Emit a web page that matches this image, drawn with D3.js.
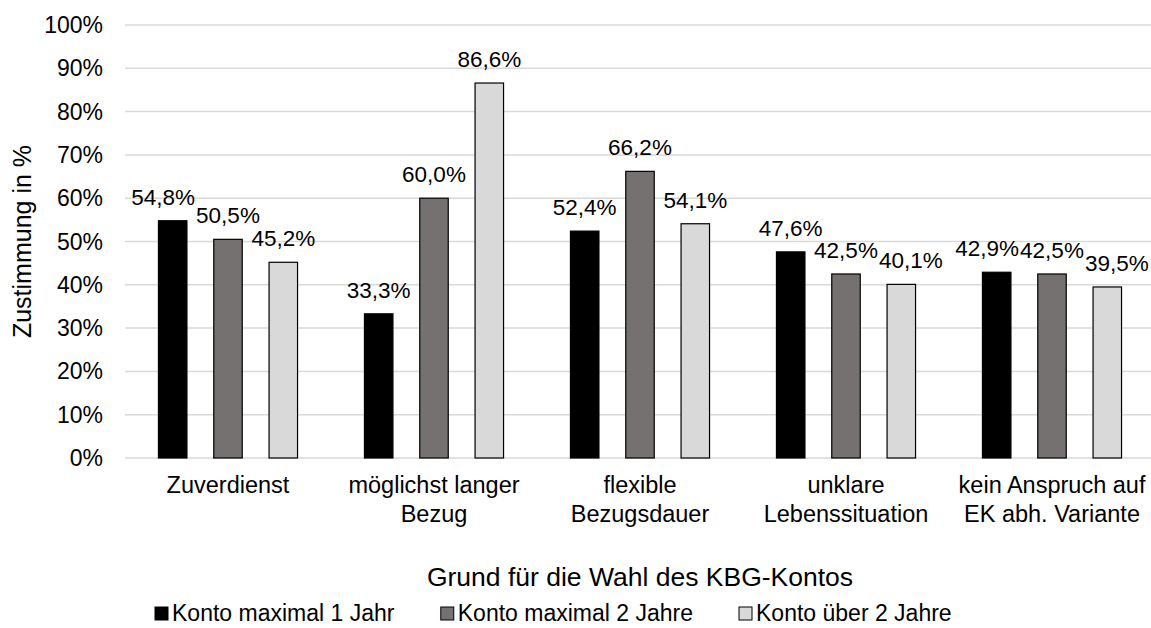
<!DOCTYPE html>
<html>
<head>
<meta charset="utf-8">
<script src="https://cdn.jsdelivr.net/npm/d3@7"></script>
<style>
  html, body { margin: 0; padding: 0; background: #fff; }
  svg { display: block; font-family: "Liberation Sans", Arial, sans-serif; }
</style>
</head>
<body>
<svg id="chart" width="1151" height="628"></svg>
<script>
const categories = [
  ["Zuverdienst"],
  ["möglichst langer", "Bezug"],
  ["flexible", "Bezugsdauer"],
  ["unklare", "Lebenssituation"],
  ["kein Anspruch auf", "EK abh. Variante"]
];
const seriesNames = ["Konto maximal 1 Jahr", "Konto maximal 2 Jahre", "Konto über 2 Jahre"];
const konto1 = [54.8, 33.3, 52.4, 47.6, 42.9];
const konto2 = [50.5, 60.0, 66.2, 42.5, 42.5];
const konto3 = [45.2, 86.6, 54.1, 40.1, 39.5];
const yTicks = [0, 10, 20, 30, 40, 50, 60, 70, 80, 90, 100];
const colors = ["#000000", "#767171", "#d9d9d9"];
const yTitle = "Zustimmung in %";
const xTitle = "Grund für die Wahl des KBG-Kontos";

(function () {
const seriesValues = [konto1, konto2, konto3];
const svg = d3.select("#chart");
const W = 1151;
const mLeft = 125, mRight = 1155, mTop = 25, mBottom = 458;

const x0 = d3.scaleBand().domain(d3.range(categories.length)).range([mLeft, mRight]).padding(0);
const x1 = d3.scaleBand().domain(d3.range(seriesNames.length)).range([0, x0.bandwidth()])
  .paddingInner(0.485).paddingOuter(0.605);
const y = d3.scaleLinear().domain([0, 100]).range([mBottom, mTop]);
const fmt = v => d3.format(".1f")(v).replace(".", ",") + "%";

svg.append("g").selectAll("line").data(yTicks).join("line")
  .attr("x1", mLeft).attr("x2", W)
  .attr("y1", d => y(d)).attr("y2", d => y(d))
  .attr("stroke", "#d9d9d9").attr("stroke-width", 1.5);

svg.append("g").selectAll("text").data(yTicks).join("text")
  .attr("x", 103).attr("y", d => y(d)).attr("dy", "0.35em")
  .attr("text-anchor", "end").attr("font-size", 23).attr("fill", "#000")
  .text(d => d + "%");

const groups = svg.append("g").selectAll("g").data(categories).join("g")
  .attr("transform", (d, i) => `translate(${x0(i)},0)`);
groups.selectAll("rect").data((d, i) => seriesValues.map((s, j) => ({ j, v: s[i] }))).join("rect")
  .attr("x", d => x1(d.j)).attr("width", x1.bandwidth())
  .attr("y", d => y(d.v)).attr("height", d => y(0) - y(d.v))
  .attr("fill", d => colors[d.j]).attr("stroke", "#000").attr("stroke-width", 1.2);
groups.selectAll("text.val").data((d, i) => seriesValues.map((s, j) => ({ j, v: s[i] }))).join("text")
  .attr("class", "val")
  .attr("x", d => x1(d.j) + x1.bandwidth() / 2).attr("y", d => y(d.v) - 16)
  .attr("text-anchor", "middle").attr("font-size", 22.5).attr("fill", "#000")
  .text(d => fmt(d.v));

// neighbouring labels that collide are pushed outward (middle label stays)
groups.each(function () {
  const ts = d3.select(this).selectAll("text.val").nodes();
  const mid = 1;
  [[0, 1, -1], [1, 2, 1]].forEach(([a, b, dir]) => {
    const ba = ts[a].getBBox(), bb = ts[b].getBBox();
    const vOverlap = ba.y < bb.y + bb.height - 4 && bb.y < ba.y + ba.height - 4;
    const over = ba.x + ba.width - bb.x;
    if (vOverlap && over > 0) {
      const node = dir < 0 ? ts[a] : ts[b];
      node.setAttribute("x", +node.getAttribute("x") + dir * (over + 1));
    }
  });
});

const cat = svg.append("g").selectAll("text").data(categories).join("text")
  .attr("text-anchor", "middle").attr("font-size", 23.5).attr("fill", "#000")
  .attr("transform", (d, i) => `translate(${x0(i) + x0.bandwidth() / 2},493)`);
cat.selectAll("tspan").data(d => d).join("tspan")
  .attr("x", 0).attr("y", (d, k) => k * 28.5).text(d => d);

svg.append("text").attr("x", (mLeft + mRight) / 2).attr("y", 586)
  .attr("text-anchor", "middle").attr("font-size", 26.5).text(xTitle);
svg.append("text").attr("transform", `translate(31,${(mTop + mBottom) / 2}) rotate(-90)`)
  .attr("text-anchor", "middle").attr("font-size", 25).text(yTitle);

const legend = svg.append("g").attr("transform", "translate(0,621)");
const items = legend.selectAll("g").data(seriesNames).join("g");
items.append("rect").attr("width", 13).attr("height", 13).attr("y", -14)
  .attr("fill", (d, i) => colors[i]).attr("stroke", "#000").attr("stroke-width", 1);
items.append("text").attr("x", 17).attr("font-size", 23).text(d => d);
const widths = [];
items.each(function () { widths.push(this.getBBox().width); });
const gap = 46;
let cx = 155;
items.attr("transform", (d, i) => {
  const t = `translate(${cx},0)`; cx += widths[i] + gap; return t;
});
})();
</script>
</body>
</html>
